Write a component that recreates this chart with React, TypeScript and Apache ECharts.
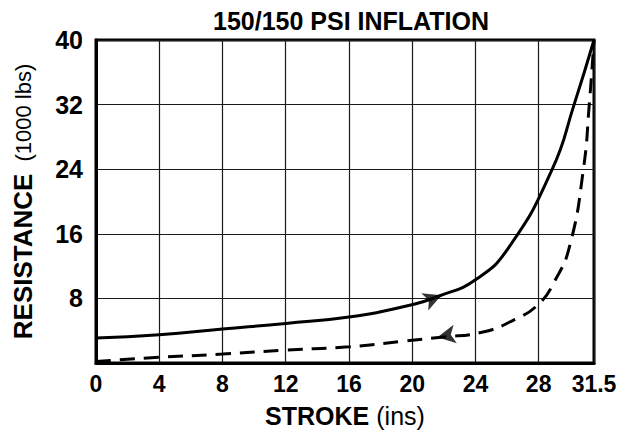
import React, { useEffect, useRef } from "react";
import * as echarts from "echarts";

const titleText = "150/150 PSI INFLATION";
const xName = "STROKE";
const xUnit = "(ins)";
const yName = "RESISTANCE";
const yUnit = "(1000 lbs)";

// Loading curve (solid), stroke in inches vs resistance in 1000 lbs
const loadX = [0, 4, 8, 12, 16, 19.5, 21.85, 24, 26.07, 28.86, 30.24, 31.5];
const loadY = [3.1, 3.5, 4.2, 4.9, 5.7, 7.0, 8.4, 10.3, 14.2, 24, 32, 40];

// Unloading curve (dashed)
const unloadX = [0, 4, 8, 12, 16, 19.5, 21.85, 24.4, 26.5, 28, 29, 29.95, 30.83, 31.2, 31.5];
const unloadY = [0.2, 0.7, 1.1, 1.6, 2.0, 2.7, 3.2, 3.8, 5.4, 7.3, 10.1, 14.4, 24, 32, 40];

// Direction arrows placed on the curves
const loadArrow = [21.85, 8.4];
const unloadArrow = [21.6, 3.2];

const zip = (xs: number[], ys: number[]) => xs.map((x, i) => [x, ys[i]]);

const FONT = "Liberation Sans";

export default function App() {
  const ref = useRef<HTMLDivElement>(null);
  useEffect(() => {
    if (!ref.current) return;
    const chart = echarts.init(ref.current, null, { renderer: "svg" });
    chart.setOption({
      animation: false,
      backgroundColor: "#fff",
      title: {
        text: titleText,
        left: 346,
        textAlign: "center",
        top: 3,
        textStyle: {
          fontFamily: FONT,
          fontWeight: "bold",
          fontSize: 25,
          color: "#000",
        },
      },
      grid: {
        left: 96,
        right: 26,
        top: 40,
        bottom: 68,
        show: true,
        borderColor: "#000",
        borderWidth: 3,
        containLabel: false,
      },
      xAxis: {
        type: "value",
        min: 0,
        max: 31.5,
        interval: 4,
        name: `{b|${xName}}{g|}{r|${xUnit}}`,
        nameLocation: "middle",
        nameGap: 40,
        nameTextStyle: {
          rich: {
            b: { fontFamily: FONT, fontWeight: "bold", fontSize: 25, color: "#000" },
            g: { width: 7 },
            r: { fontFamily: FONT, fontSize: 25, color: "#000" },
          },
        },
        axisLine: { show: true, lineStyle: { color: "#000", width: 3 } },
        axisTick: { show: false },
        axisLabel: {
          fontFamily: FONT,
          fontWeight: "bold",
          fontSize: 23,
          color: "#000",
          margin: 9,
        },
        splitLine: { show: true, lineStyle: { color: "#1a1a1a", width: 1.2 } },
      },
      yAxis: {
        type: "value",
        min: 0,
        max: 40,
        interval: 8,
        name: `{b|${yName}}{g|}{r|${yUnit}}`,
        nameLocation: "middle",
        nameGap: 60,
        nameTextStyle: {
          rich: {
            b: { fontFamily: FONT, fontWeight: "bold", fontSize: 26, color: "#000" },
            g: { width: 12 },
            r: { fontFamily: FONT, fontSize: 22, color: "#000" },
          },
        },
        axisLine: { show: true, lineStyle: { color: "#000", width: 3 } },
        axisTick: { show: false },
        axisLabel: {
          fontFamily: FONT,
          fontWeight: "bold",
          fontSize: 25,
          color: "#000",
          margin: 13,
          formatter: (v: number) => (v === 0 ? "" : String(v)),
        },
        splitLine: { show: true, lineStyle: { color: "#1a1a1a", width: 1.2 } },
      },
      series: [
        {
          type: "line",
          data: zip(loadX, loadY),
          smooth: 0.5,
          showSymbol: false,
          lineStyle: { color: "#000", width: 3 },
          z: 5,
        },
        {
          type: "line",
          data: zip(unloadX, unloadY),
          smooth: 0.5,
          showSymbol: false,
          lineStyle: { color: "#000", width: 3, type: [15, 9] },
          z: 5,
        },
        {
          type: "scatter",
          data: [loadArrow],
          symbol: "arrow",
          symbolSize: [14, 18],
          symbolRotate: -68,
          itemStyle: { color: "#000" },
          z: 6,
        },
        {
          type: "scatter",
          data: [unloadArrow],
          symbol: "arrow",
          symbolSize: [14, 18],
          symbolRotate: 100,
          itemStyle: { color: "#000" },
          z: 6,
        },
      ],
    });
    return () => chart.dispose();
  }, []);
  return (
    <div
      ref={ref}
      style={{ position: "fixed", left: 0, top: 0, width: 620, height: 433 }}
    />
  );
}
